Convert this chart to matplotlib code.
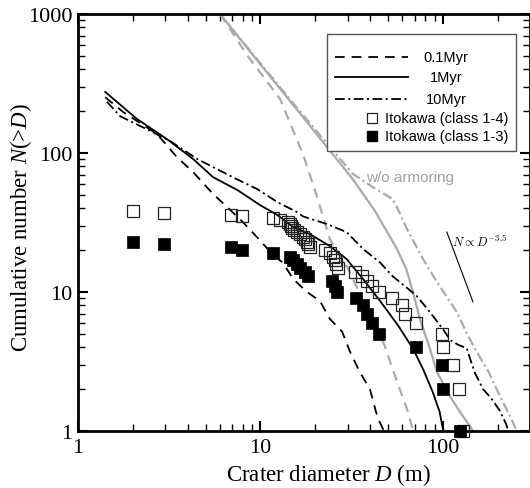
import matplotlib
matplotlib.use('Agg')
import matplotlib.pyplot as plt
from matplotlib.lines import Line2D
from matplotlib.patches import Rectangle
from matplotlib.ticker import LogLocator, NullFormatter, FixedLocator, FixedFormatter

# ---------------- data ----------------
# model curves with armoring (black)
d_01 = [1.41, 1.77, 2.71, 3.48, 4.27, 5.5, 6.55, 8.0, 9.8, 11.7, 13.3, 15.1, 18, 21.2, 24, 28, 31, 35, 39.8, 43, 45, 47, 51]
n_01 = [252, 197, 137, 93.6, 73, 50.7, 41, 31.9, 24, 18.5, 16.2, 12.4, 10, 8.6, 6.4, 5.2, 3.7, 2.66, 2.0, 1.37, 1.16, 1.03, 1.0]

d_1 = [1.41, 2.1, 3.07, 4.27, 5.5, 7.5, 10.0, 12.3, 15.0, 18.7, 24, 29.6, 36.5, 45, 57, 68.6, 77.7, 88, 96, 99, 101]
n_1 = [275, 176, 126, 90.6, 67, 54, 42, 36, 29.5, 26, 21.4, 17.3, 12.4, 8.7, 5.7, 3.9, 2.8, 1.9, 1.37, 1.1, 1.0]

d_10 = [1.44, 1.70, 2.39, 3.19, 4.5, 5.76, 7.4, 9.6, 12.5, 15.8, 17.1, 23, 29.6, 36.5, 45, 53, 58, 71.7, 84.6, 96,
        102, 110, 122, 135, 141, 150, 166, 185, 205, 222, 228]
n_10 = [234, 184, 148, 122, 90.6, 76.7, 64.9, 55, 44, 37.7, 35, 30.9, 27, 20.4, 16.4, 13, 11.8, 9.4, 7.2, 5.8,
        5.2, 4.5, 4.15, 3.95, 3.3, 2.6, 2.0, 1.7, 1.4, 1.12, 1.0]

# model curves without armoring (gray)
g01_d = [6.0, 8.5, 12.8, 17.1, 20.6, 24, 30, 36, 42, 48, 52, 58, 64, 68.6]
g01_n = [1000, 500, 245, 98, 46.7, 24, 15, 9, 6, 4.1, 3.0, 2.0, 1.4, 1.0]

g1_d = [6.0, 9.95, 16.4, 32, 42.4, 56, 63, 68.5, 74.8, 84.9, 92.7, 109, 124, 140, 146]
g1_n = [1000, 437, 194, 65, 38.3, 20.4, 14.6, 10, 6.4, 3.9, 2.66, 1.79, 1.37, 1.09, 1.0]

g10_d = [6.0, 9.95, 16.4, 32, 42, 53, 58, 63.5, 77.7, 92.7, 119, 140, 158, 178, 205, 233, 254]
g10_n = [1000, 445, 200, 71, 56, 46.7, 37, 28.4, 17.3, 11.8, 7.2, 4.6, 3.46, 2.66, 1.79, 1.28, 1.0]

# Itokawa craters
open_d = [2.0, 2.96, 6.9, 7.9, 11.7, 12.8, 14.2, 14.5, 14.7, 14.9, 15.3, 15.9, 16.5, 17.1, 17.6, 18.0, 18.3, 18.8,
          22.6, 24.0, 25.0, 25.5, 25.9, 26.5, 33.0, 36.0, 38.4, 40.8, 44.6, 52.6, 59.5, 61.9, 71.3, 98.7, 100,
          113, 122, 129]
open_n = [38, 37, 36, 35, 34, 33, 32, 31, 30, 29, 28, 27, 26, 25, 24, 23, 22, 21, 20, 19, 18, 17, 16, 15, 14,
          13, 12, 11, 10, 9, 8, 7, 6, 5, 4, 3, 2, 1]

fill_d = [2.0, 2.96, 6.9, 7.9, 11.7, 14.5, 15.1, 15.9, 16.4, 17.5, 18.2, 24.6, 25.7, 26.3, 33.3, 36.5, 38.4,
          40.8, 44.6, 71.3, 98.7, 100, 124]
fill_n = [23, 22, 21, 20, 19, 18, 17, 16, 15, 14, 13, 12, 11, 10, 9, 8, 7, 6, 5, 4, 3, 2, 1]

# reference slope line N ~ D^-3.5
ref_d = [105, 146]
ref_n = [27, 8.5]

legend_labels = ['0.1Myr', '1Myr', '10Myr', 'Itokawa (class 1-4)', 'Itokawa (class 1-3)']

# ---------------- style ----------------
plt.rcParams['mathtext.fontset'] = 'custom'
plt.rcParams['mathtext.rm'] = 'Liberation Serif'
plt.rcParams['mathtext.it'] = 'Liberation Serif:italic'
plt.rcParams['lines.scale_dashes'] = False

SERIF = 'Liberation Serif'
SANS = 'Liberation Sans'
GRAY = '#aaaaaa'
DASH = (0, (7, 5))
DASHDOT = (0, (7, 2.5, 1.5, 2.5))

fig = plt.figure(figsize=(5.30, 4.89), dpi=100)
ax = fig.add_axes([78 / 530, 1 - 432 / 489, 452 / 530, 417 / 489])
ax.set_xscale('log')
ax.set_yscale('log')
ax.set_xlim(1, 300)
ax.set_ylim(1, 1000)

# gray curves
ax.plot(g01_d, g01_n, color=GRAY, lw=1.6, linestyle=DASH, zorder=2)
ax.plot(g1_d, g1_n, color=GRAY, lw=1.6, linestyle='-', zorder=2)
ax.plot(g10_d, g10_n, color=GRAY, lw=1.6, linestyle=DASHDOT, zorder=2)

# black curves
ax.plot(d_01, n_01, color='black', lw=1.3, linestyle=DASH, zorder=3)
ax.plot(d_1, n_1, color='black', lw=1.3, linestyle='-', zorder=3)
ax.plot(d_10, n_10, color='black', lw=1.3, linestyle=DASHDOT, zorder=3)

# data points
ax.plot(open_d, open_n, linestyle='none', marker='s', ms=8, mfc='none', mec='#222222', mew=0.9, zorder=4,
        clip_on=False)
ax.plot(fill_d, fill_n, linestyle='none', marker='s', ms=8, mfc='black', mec='black', mew=0.5, zorder=4,
        clip_on=False)

# slope line
ax.plot(ref_d, ref_n, color='black', lw=0.8, zorder=3)
ax.text(0.827, 0.456, r'$N \propto D^{-3.5}$', transform=ax.transAxes, fontsize=9,
        math_fontfamily='cm', ha='left', va='center')
ax.text(0.637, 0.609, 'w/o armoring', transform=ax.transAxes, fontsize=11, family=SANS,
        color='#a0a0a0', ha='left', va='center')

# ---------------- axes ----------------
for s in ax.spines.values():
    s.set_linewidth(2)
ax.tick_params(which='both', direction='in', top=True, right=True)
ax.tick_params(which='major', length=7.5, width=1.5, labelsize=16, pad=5)
ax.tick_params(which='minor', length=5, width=1.0)
ax.xaxis.set_major_locator(FixedLocator([1, 10, 100]))
ax.xaxis.set_major_formatter(FixedFormatter(['1', '10', '100']))
ax.yaxis.set_major_locator(FixedLocator([1, 10, 100, 1000]))
ax.yaxis.set_major_formatter(FixedFormatter(['1', '10', '100', '1000']))
ax.xaxis.set_minor_locator(LogLocator(base=10, subs=range(2, 10)))
ax.yaxis.set_minor_locator(LogLocator(base=10, subs=range(2, 10)))
ax.xaxis.set_minor_formatter(NullFormatter())
ax.yaxis.set_minor_formatter(NullFormatter())
for lab in ax.get_xticklabels() + ax.get_yticklabels():
    lab.set_family(SERIF)
ax.tick_params(axis='y', pad=4)

ax.set_xlabel(r'Crater diameter $D$ (m)', fontsize=16.5, family=SERIF)
ax.set_ylabel(r'Cumulative number $N$(>$D$)', fontsize=16.5, family=SERIF)
ax.xaxis.set_label_coords(0.553, -0.072)
ax.yaxis.set_label_coords(-0.097, 0.49)

# ---------------- legend (drawn in axes fraction) ----------------
ax.add_patch(Rectangle((0.551, 0.671), 0.418, 0.281, transform=ax.transAxes, facecolor='white',
                       edgecolor='#555555', lw=1.0, zorder=6))
rows = [0.897, 0.849, 0.796, 0.751, 0.707]
styles = [DASH, '-', DASHDOT]
for i in range(3):
    ax.add_line(Line2D([0.569, 0.730], [rows[i], rows[i]], transform=ax.transAxes, color='black', lw=1.3,
                       linestyle=styles[i], zorder=7))
    ax.text(0.814, rows[i], legend_labels[i], transform=ax.transAxes, fontsize=10.5, family=SANS,
            ha='center', va='center', zorder=7)
ax.add_line(Line2D([0.650], [rows[3]], transform=ax.transAxes, marker='s', ms=7, mfc='none', mec='#222222',
                   mew=0.9, linestyle='none', zorder=7))
ax.add_line(Line2D([0.650], [rows[4]], transform=ax.transAxes, marker='s', ms=7, mfc='black', mec='black',
                   linestyle='none', zorder=7))
for i in (3, 4):
    ax.text(0.679, rows[i], legend_labels[i], transform=ax.transAxes, fontsize=10.5, family=SANS,
            ha='left', va='center', zorder=7)

fig.savefig('out.png', dpi=100)
